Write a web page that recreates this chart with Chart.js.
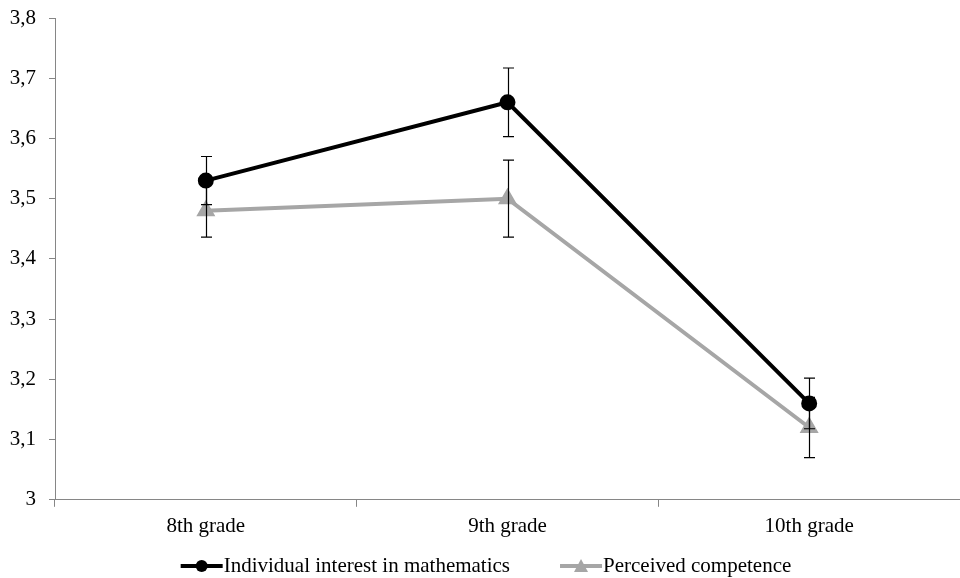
<!DOCTYPE html>
<html>
<head>
<meta charset="utf-8">
<script src="https://cdn.jsdelivr.net/npm/chart.js@4/dist/chart.umd.min.js"></script>
<style>
  html, body { margin: 0; padding: 0; background: #fff; }
  #wrap { width: 960px; height: 578px; }
</style>
</head>
<body>
<div id="wrap"><canvas id="theChart" width="960" height="578"></canvas></div>
<script>
'use strict';

// chart data
let grades = ['8th grade', '9th grade', '10th grade'];
let interestValues = [3.53, 3.66, 3.16];
let interestErrors = [0.04, 0.057, 0.042];
let competenceValues = [3.48, 3.50, 3.12];
let competenceErrors = [0.044, 0.064, 0.05];
let yTicks = [3, 3.1, 3.2, 3.3, 3.4, 3.5, 3.6, 3.7, 3.8];

let fontName = '"Liberation Serif", "Times New Roman", serif';
let axisGray = '#868686';

Chart.defaults.font.family = fontName;
Chart.defaults.font.size = 21;
Chart.defaults.color = '#000';

// error bars drawn on top of the lines
const errorBars = {
  id: 'errorBars',
  afterDatasetsDraw(chart) {
    let ctx = chart.ctx;
    let yScale = chart.scales.y;
    ctx.save();
    ctx.strokeStyle = '#000';
    ctx.lineWidth = 1.2;
    chart.data.datasets.forEach((ds, i) => {
      let meta = chart.getDatasetMeta(i);
      meta.data.forEach((pt, j) => {
        let v = ds.data[j];
        let e = ds.errors[j];
        let yTop = yScale.getPixelForValue(v + e);
        let yBot = yScale.getPixelForValue(v - e);
        let x = Math.round(pt.x) + 0.5;
        ctx.beginPath();
        ctx.moveTo(x, yTop);
        ctx.lineTo(x, yBot);
        ctx.moveTo(x - 5.5, yTop);
        ctx.lineTo(x + 5.5, yTop);
        ctx.moveTo(x - 5.5, yBot);
        ctx.lineTo(x + 5.5, yBot);
        ctx.stroke();
      });
    });
    ctx.restore();
  }
};

// legend under the axis: line with marker, then the series name
const lineLegend = {
  id: 'lineLegend',
  afterDraw(chart) {
    let ctx = chart.ctx;
    let symbolWidth = 42;
    let textGap = 1;
    let itemGap = 50;
    let centerY = 566;
    ctx.save();
    ctx.font = '21px ' + fontName;
    let items = chart.data.datasets.map(ds => ({
      ds: ds,
      textWidth: ctx.measureText(ds.label).width
    }));
    let total = 0;
    items.forEach((it, i) => {
      total += symbolWidth + textGap + it.textWidth;
      if (i > 0) total += itemGap;
    });
    let x = 486 - total / 2;
    items.forEach(it => {
      let color = it.ds.borderColor;
      ctx.strokeStyle = color;
      ctx.fillStyle = color;
      ctx.lineWidth = 4;
      ctx.beginPath();
      ctx.moveTo(x, centerY);
      ctx.lineTo(x + symbolWidth, centerY);
      ctx.stroke();
      let mx = x + symbolWidth / 2;
      ctx.beginPath();
      if (it.ds.pointStyle === 'circle') {
        ctx.arc(mx, centerY, 6, 0, Math.PI * 2);
      } else {
        ctx.moveTo(mx, centerY - 7);
        ctx.lineTo(mx + 7, centerY + 6);
        ctx.lineTo(mx - 7, centerY + 6);
        ctx.closePath();
      }
      ctx.fill();
      ctx.fillStyle = '#000';
      ctx.textBaseline = 'middle';
      ctx.textAlign = 'left';
      ctx.fillText(it.ds.label, x + symbolWidth + textGap, centerY);
      x += symbolWidth + textGap + it.textWidth + itemGap;
    });
    ctx.restore();
  }
};

const data = {
  labels: grades,
  datasets: [{
    label: 'Individual interest in mathematics',
    data: interestValues,
    errors: interestErrors,
    borderColor: '#000',
    backgroundColor: '#000',
    borderWidth: 4,
    pointStyle: 'circle',
    pointRadius: 6,
    pointHoverRadius: 6,
    tension: 0
  },
  {
    label: 'Perceived competence',
    data: competenceValues,
    errors: competenceErrors,
    borderColor: '#a6a6a6',
    backgroundColor: '#a6a6a6',
    borderWidth: 4,
    pointStyle: 'triangle',
    pointRadius: 7,
    pointHoverRadius: 7,
    tension: 0
  }]
};

const config = {
  type: 'line',
  data: data,
  plugins: [errorBars, lineLegend],
  options: {
    responsive: false,
    animation: false,
    layout: {
      autoPadding: false,
      padding: { top: 18, left: 10, right: 0, bottom: 32 }
    },
    plugins: {
      tooltip: { enabled: false },
      legend: { display: false }
    },
    scales: {
      x: {
        type: 'category',
        offset: true,
        afterFit(scale) {
          scale.paddingLeft = 0;
          scale.paddingRight = 0;
        },
        grid: {
          offset: true,
          drawOnChartArea: false,
          drawTicks: true,
          tickLength: 7,
          color: axisGray
        },
        border: { color: axisGray, width: 1 },
        ticks: { padding: 7, color: '#000' }
      },
      y: {
        min: 3,
        max: 3.8,
        afterBuildTicks(scale) {
          scale.ticks = yTicks.map(v => ({ value: v }));
        },
        afterFit(scale) {
          scale.width = 45;
          scale.paddingTop = 0;
          scale.paddingBottom = 0;
        },
        grid: {
          drawOnChartArea: false,
          drawTicks: true,
          tickLength: 6,
          color: axisGray
        },
        border: { color: axisGray, width: 1 },
        ticks: {
          padding: 13,
          color: '#000',
          callback(value) {
            if (Math.abs(value - 3) < 1e-9) {
              return '3';
            }
            return value.toFixed(1).replace('.', ',');
          }
        }
      }
    }
  }
};

new Chart(document.getElementById('theChart'), config);
</script>
</body>
</html>
